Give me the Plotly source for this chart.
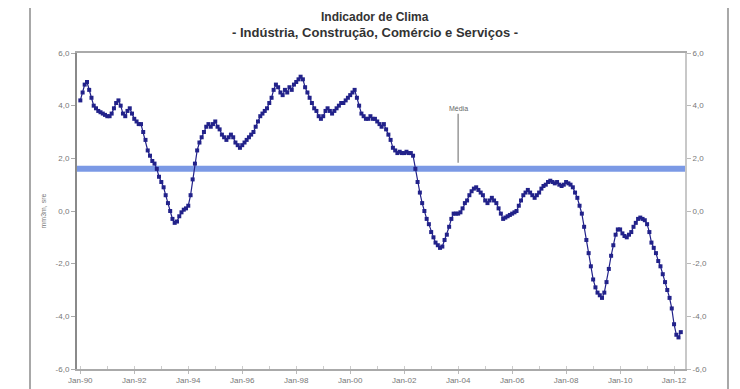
import plotly.graph_objects as go
import pandas as pd

# ---- data (monthly, starting Jan-1990) ----
inicio = "1990-01-01"
clima = [
    # 1990
    4.2, 4.5, 4.8, 4.9, 4.6, 4.3, 4.0, 3.9, 3.8, 3.75, 3.7, 3.65,
    # 1991
    3.6, 3.6, 3.7, 3.9, 4.1, 4.2, 4.0, 3.7, 3.6, 3.8, 3.9, 3.7,
    # 1992
    3.5, 3.4, 3.3, 3.3, 3.0, 2.7, 2.3, 2.1, 1.9, 1.8, 1.6, 1.3,
    # 1993
    1.1, 0.9, 0.6, 0.3, 0.0, -0.3, -0.45, -0.4, -0.2, -0.05, 0.05, 0.1,
    # 1994
    0.2, 0.6, 1.2, 1.8, 2.3, 2.6, 2.8, 3.0, 3.2, 3.3, 3.2, 3.3,
    # 1995
    3.4, 3.2, 3.1, 2.9, 2.8, 2.7, 2.8, 2.9, 2.8, 2.6, 2.5, 2.4,
    # 1996
    2.5, 2.6, 2.7, 2.8, 2.9, 3.0, 3.2, 3.4, 3.6, 3.7, 3.8, 3.9,
    # 1997
    4.1, 4.3, 4.6, 4.8, 4.7, 4.5, 4.4, 4.6, 4.5, 4.7, 4.6, 4.8,
    # 1998
    4.9, 5.0, 5.1, 5.0, 4.7, 4.5, 4.3, 4.1, 3.9, 3.8, 3.6, 3.5,
    # 1999
    3.6, 3.8, 3.9, 3.8, 3.7, 3.8, 3.9, 4.0, 4.1, 4.1, 4.2, 4.3,
    # 2000
    4.4, 4.5, 4.6, 4.3, 4.0, 3.7, 3.6, 3.5, 3.5, 3.6, 3.5, 3.5,
    # 2001
    3.4, 3.3, 3.2, 3.3, 3.1, 2.9, 2.7, 2.4, 2.3, 2.2, 2.25, 2.2,
    # 2002
    2.2, 2.25, 2.2, 2.2, 2.1, 1.6, 1.1, 0.7, 0.3, 0.0, -0.3, -0.5,
    # 2003
    -0.8, -1.0, -1.2, -1.3, -1.4, -1.35, -1.1, -0.9, -0.6, -0.3, -0.1, -0.1,
    # 2004
    -0.1, -0.05, 0.1, 0.3, 0.4, 0.6, 0.75, 0.85, 0.9, 0.8, 0.7, 0.6,
    # 2005
    0.4, 0.3, 0.4, 0.5, 0.4, 0.3, 0.1, -0.1, -0.3, -0.25, -0.2, -0.15,
    # 2006
    -0.1, -0.05, 0.0, 0.2, 0.4, 0.6, 0.7, 0.8, 0.7, 0.6, 0.5, 0.6,
    # 2007
    0.7, 0.85, 0.95, 1.0, 1.1, 1.15, 1.1, 1.05, 1.1, 1.0, 0.95, 1.0,
    # 2008
    1.1, 1.05, 1.0, 0.9, 0.7, 0.5, 0.2, -0.1, -0.6, -1.1, -1.6, -2.1,
    # 2009
    -2.6, -2.9, -3.1, -3.2, -3.3, -3.1, -2.7, -2.2, -1.7, -1.3, -0.9, -0.7,
    # 2010
    -0.7, -0.85, -0.95, -1.0, -0.9, -0.8, -0.6, -0.45, -0.3, -0.25, -0.3, -0.35,
    # 2011
    -0.5, -0.8, -1.2, -1.4, -1.6, -1.9, -2.1, -2.4, -2.7, -3.0, -3.3, -3.7,
    # 2012
    -4.3, -4.7, -4.8, -4.6,
]
media = 1.6

tick_dates = ["1990-01-01", "1992-01-01", "1994-01-01", "1996-01-01", "1998-01-01",
              "2000-01-01", "2002-01-01", "2004-01-01", "2006-01-01", "2008-01-01",
              "2010-01-01", "2012-01-01"]
tick_labels = ["Jan-90", "Jan-92", "Jan-94", "Jan-96", "Jan-98", "Jan-00",
               "Jan-02", "Jan-04", "Jan-06", "Jan-08", "Jan-10", "Jan-12"]
y_ticks = [-6, -4, -2, 0, 2, 4, 6]
y_labels = ["-6,0", "-4,0", "-2,0", "0,0", "2,0", "4,0", "6,0"]

titulo1 = "Indicador de Clima"
titulo2 = "- Indústria, Construção, Comércio e Serviços -"
ytitulo = "mm3m, sre"

datas = pd.date_range(inicio, periods=len(clima), freq="MS")
x_range = ["1989-11-17", "2012-05-28"]

fig = go.Figure()

# mean line
fig.add_trace(go.Scatter(
    x=x_range, y=[media, media], mode="lines",
    line=dict(color="rgba(100,135,225,0.85)", width=6),
    hoverinfo="skip", showlegend=False))

# indicator series
fig.add_trace(go.Scatter(
    x=datas, y=clima, mode="lines+markers",
    line=dict(color="#22228a", width=1.2),
    marker=dict(symbol="square", size=4, color="#22228a"),
    showlegend=False))

# invisible trace for right axis
fig.add_trace(go.Scatter(x=[datas[0]], y=[0], yaxis="y2", mode="markers",
                         marker=dict(opacity=0), hoverinfo="skip", showlegend=False))

tickfont = dict(family="Liberation Sans, Arial, sans-serif", size=8, color="#777777")

fig.update_layout(
    width=740, height=389,
    margin=dict(l=69, r=63, t=45, b=26),
    paper_bgcolor="white", plot_bgcolor="white",
    xaxis=dict(
        type="date", range=x_range,
        tickvals=tick_dates, ticktext=tick_labels,
        tickfont=tickfont, ticks="outside", ticklen=3, tickcolor="#bbbbbb",
        showgrid=False, zeroline=False,
        showline=True, linecolor="#aaaaaa", linewidth=1.5,
        mirror=True,
        minor=dict(dtick="M12", ticks="inside", ticklen=3, tickcolor="#cccccc"),
    ),
    yaxis=dict(
        range=[-6, 6], tickvals=y_ticks, ticktext=y_labels,
        tickfont=tickfont, ticks="outside", ticklen=4, tickcolor="#aaaaaa",
        showgrid=False, zeroline=False,
        showline=True, linecolor="#8a8a8a", linewidth=2,
        title=dict(text=ytitulo, font=dict(family="Liberation Sans, Arial", size=7, color="#777777"),
                   standoff=8),
    ),
    yaxis2=dict(
        range=[-6, 6], tickvals=y_ticks, ticktext=y_labels, overlaying="y", side="right",
        tickfont=tickfont, ticks="outside", ticklen=4, tickcolor="#bbbbbb",
        showgrid=False, zeroline=False,
        showline=True, linecolor="#c8c8c8", linewidth=2,
    ),
    annotations=[
        dict(text="<b>" + titulo1 + "</b>", xref="paper", yref="paper", x=0.49, y=1.114,
             yanchor="middle", showarrow=False,
             font=dict(family="Liberation Sans, Arial", size=12, color="#333333")),
        dict(text="<b>" + titulo2 + "</b>", xref="paper", yref="paper", x=0.49, y=1.064,
             yanchor="middle", showarrow=False,
             font=dict(family="Liberation Sans, Arial", size=13, color="#333333")),
        dict(text="Média", x="2004-01-01", y=media, xref="x", yref="y",
             ax=0, ay=-60, showarrow=True, arrowhead=0, arrowwidth=1.5, arrowcolor="#999999",
             standoff=6, font=dict(family="Liberation Sans, Arial", size=7, color="#666666")),
    ],
    shapes=[
        dict(type="rect", xref="paper", yref="paper", x0=-0.0773, x1=1.0707, y0=-0.2, y1=1.3,
             line=dict(color="#a8a8a8", width=2), fillcolor="rgba(0,0,0,0)", layer="below"),
    ],
)

fig.write_html("out.html")
